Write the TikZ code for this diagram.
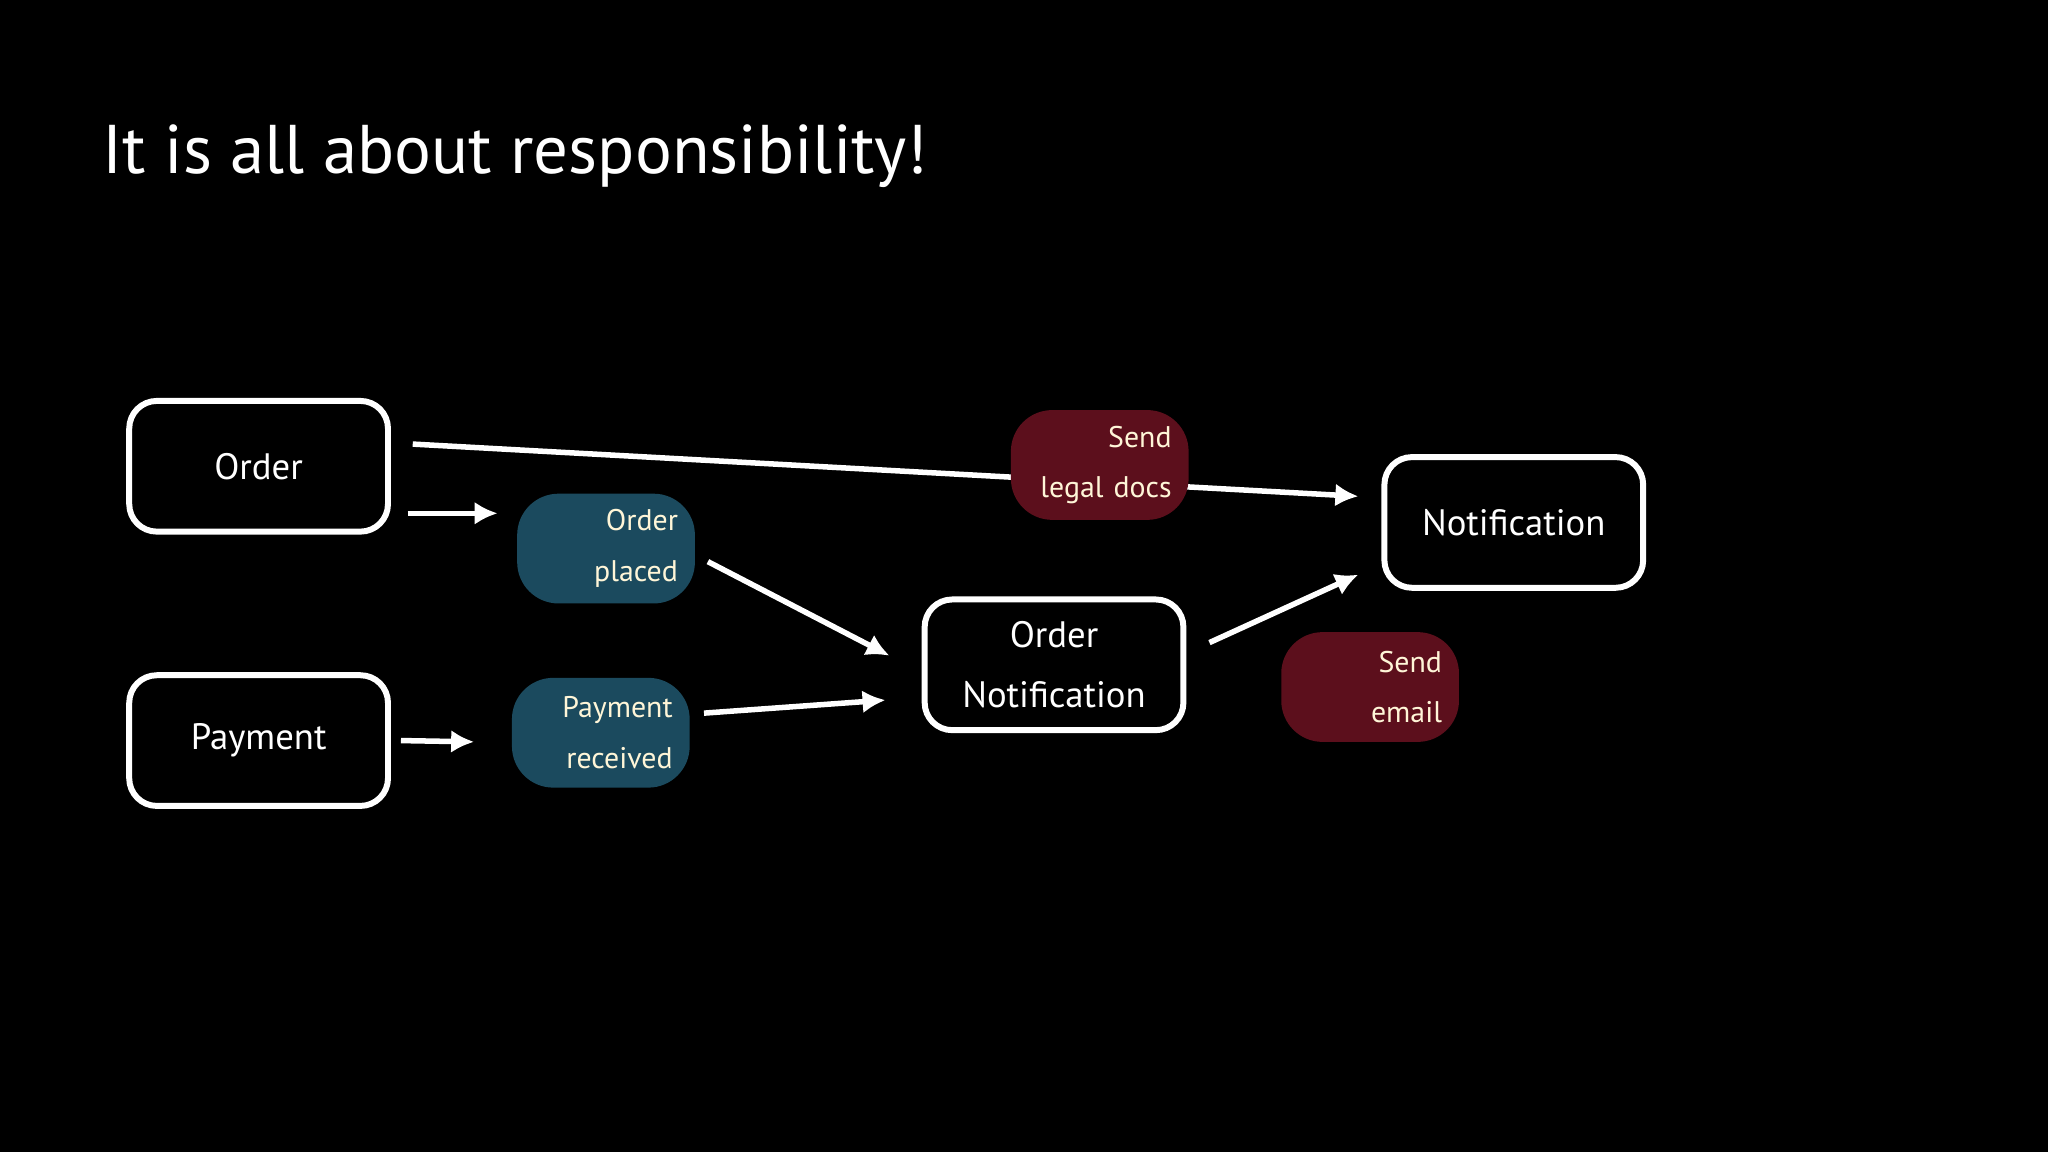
\documentclass[tikz,border=0pt]{standalone}
\usepackage{fontspec}
\setmainfont{PT Sans}
\usetikzlibrary{arrows.meta}
\definecolor{blob1}{HTML}{1B4A5E}
\definecolor{blob2}{HTML}{5C0F1C}
\definecolor{txt}{HTML}{FFF6D8}
\begin{document}
\begin{tikzpicture}[x=0.01cm,y=-0.01cm,
  box/.style={draw=white,line width=1.3pt,rounded corners=6pt,minimum width=1.98cm,minimum height=1cm,text=white,font=\fontsize{8}{13}\selectfont,align=center},
  blob/.style={rounded corners=9pt,minimum width=1.36cm,minimum height=0.84cm,text width=1.1cm,text=txt,font=\fontsize{6.5}{11}\selectfont,align=right,inner sep=2pt},
  arr/.style={draw=white,line width=1.2pt,-{Latex[length=5pt,width=5pt]}}]
\fill[black] (0,0) rectangle (1568,882);
\node[anchor=base west,text=white,font=\fontsize{15}{18}\selectfont,inner sep=0pt] (title) at (78,133) {It is all about responsibility!};
\node[box] (order) at (198,357) {Order};
\node[box] (payment) at (198,567) {Payment};
\node[box] (on) at (807,509) {Order\\Notification};
\node[box] (notif) at (1159,400) {Notification};
\coordinate (a1s) at (316,340); \coordinate (a1e) at (1040,380);
\draw[arr] (a1s) -- (a1e);
\node[blob,fill=blob1] (op) at (464,420) {Order\\placed};
\node[blob,fill=blob1] (pr) at (460,561) {Payment\\received};
\node[blob,fill=blob2] (sld) at (842,356) {Send\\legal docs};
\node[blob,fill=blob2] (se) at (1049,526) {Send\\email};
\coordinate (b1) at (312,393); \coordinate (b2) at (381,393);
\draw[arr] (b1) -- (b2);
\coordinate (c1) at (542,430); \coordinate (c2) at (681,502);
\draw[arr] (c1) -- (c2);
\coordinate (d1) at (307,567); \coordinate (d2) at (363,568);
\draw[arr] (d1) -- (d2);
\coordinate (e1) at (539,546); \coordinate (e2) at (678,536);
\draw[arr] (e1) -- (e2);
\coordinate (f1) at (926,492); \coordinate (f2) at (1040,440);
\draw[arr] (f1) -- (f2);
\end{tikzpicture}
\end{document}
